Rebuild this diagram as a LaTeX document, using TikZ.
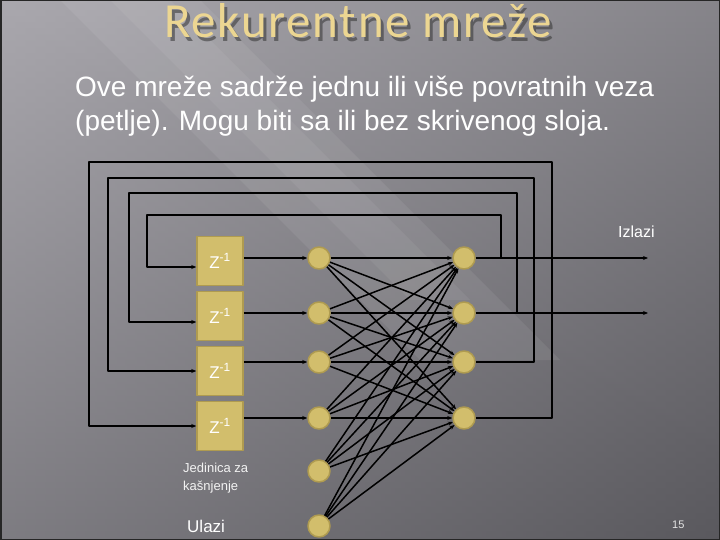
\documentclass[tikz,border=0pt]{standalone}
\usepackage{fontspec}
\setmainfont{Liberation Sans}
\newfontfamily\titlefont[LetterSpace=3.5]{Carlito}
\usetikzlibrary{arrows.meta}
\definecolor{tan}{RGB}{210,190,108}
\definecolor{tanedge}{RGB}{175,155,80}
\definecolor{titletan}{RGB}{236,214,146}
\definecolor{bgul}{RGB}{170,168,174}
\definecolor{bgur}{RGB}{98,97,102}
\definecolor{bgll}{RGB}{112,111,116}
\definecolor{bglr}{RGB}{82,81,86}
\begin{document}
\begin{tikzpicture}[x=1pt,y=-1pt,line join=round,>={Stealth[length=5pt,width=4pt]},
    wire/.style={black,line width=1.5pt},
    neuron/.style={circle,fill=tan,draw=tanedge,line width=1.5pt,minimum size=22pt,inner sep=0pt},
    delay/.style={fill=tan,draw=tanedge,line width=1.5pt,minimum width=46pt,minimum height=49pt,inner sep=0pt,text=white,font=\fontsize{17}{18}\selectfont},
    txt/.style={text=white,inner sep=0pt}]
  % background
  \useasboundingbox (0,0) rectangle (720,540);
  \shade[left color=bgul,right color=bgur] (0,0) rectangle (720,540);
  \shade[top color=bgul,bottom color=bglr,opacity=0.5] (0,0) rectangle (720,540);
  \fill[white,opacity=0.07] (60,0) -- (200,0) -- (560,360) -- (420,360) -- cycle;
  \fill[white,opacity=0.06] (110,0) -- (170,0) -- (470,300) -- (410,300) -- cycle;
  \draw[black!70!gray,line width=3pt] (0,0) rectangle (720,540);
  % title and text
  \node[txt,text=black!80,opacity=0.55,font=\titlefont\fontsize{49}{50}\selectfont,anchor=base] (shadow) at (361,42) {Rekurentne mreže};
  \node[txt,text=titletan,font=\titlefont\fontsize{49}{50}\selectfont,anchor=base] (title) at (358,38) {Rekurentne mreže};
  \node[txt,font=\fontsize{28}{30}\selectfont,anchor=base west] (line1) at (75,97) {Ove mreže sadrže jednu ili više povratnih veza};
  \node[txt,font=\fontsize{28}{30}\selectfont,anchor=base west] (line2) at (75,131) {(petlje). Mogu biti sa ili bez skrivenog sloja.};
  % delay units
  \foreach \i/\y in {1/261,2/316,3/371,4/426}
    \node[delay] (z\i) at (220,\y) {Z\textsuperscript{-1}};
  % input layer
  \foreach \i/\y in {1/258,2/313,3/362,4/418,5/471,6/526}
    \node[neuron] (in\i) at (319,\y) {};
  % output layer
  \foreach \i/\y in {1/258,2/313,3/362,4/418}
    \node[neuron] (out\i) at (464,\y) {};
  % connections
  \foreach \i in {1,...,4}
    \draw[wire,->] (z\i.east |- in\i) -- (in\i);
  \foreach \i in {1,...,6}
    \foreach \j in {1,...,4}
      \draw[wire,->] (in\i) -- (out\j);
  % outputs
  \coordinate (y1) at (648,258);
  \coordinate (y2) at (648,313);
  \draw[wire,->] (out1) -- (y1);
  \draw[wire,->] (out2) -- (y2);
  % feedback loops
  \foreach \i/\r/\t/\l/\e in {1/501/215/147/267,2/517/193/129/322,3/534/178/108/371,4/552/162/89/426}{
    \coordinate (fb\i) at (\l,\e);
    \draw[wire,->] (out\i) -| (\r,\t) -| (fb\i) -- (z\i.west |- fb\i);
  }
  % labels
  \node[txt,font=\fontsize{16}{18}\selectfont,anchor=base west] (izlazi) at (618,237) {Izlazi};
  \node[txt,text=white!90!gray,font=\fontsize{13}{18}\selectfont,anchor=base west] (jedinica) at (183,472) {Jedinica za};
  \node[txt,text=white!90!gray,font=\fontsize{13}{18}\selectfont,anchor=base west] (kasnjenje) at (183,490) {kašnjenje};
  \node[txt,font=\fontsize{17}{18}\selectfont,anchor=base west] (ulazi) at (187,532) {Ulazi};
  \node[txt,text=white!80!gray,font=\fontsize{11}{12}\selectfont,anchor=base west] (page) at (672,528) {15};
\end{tikzpicture}
\end{document}
